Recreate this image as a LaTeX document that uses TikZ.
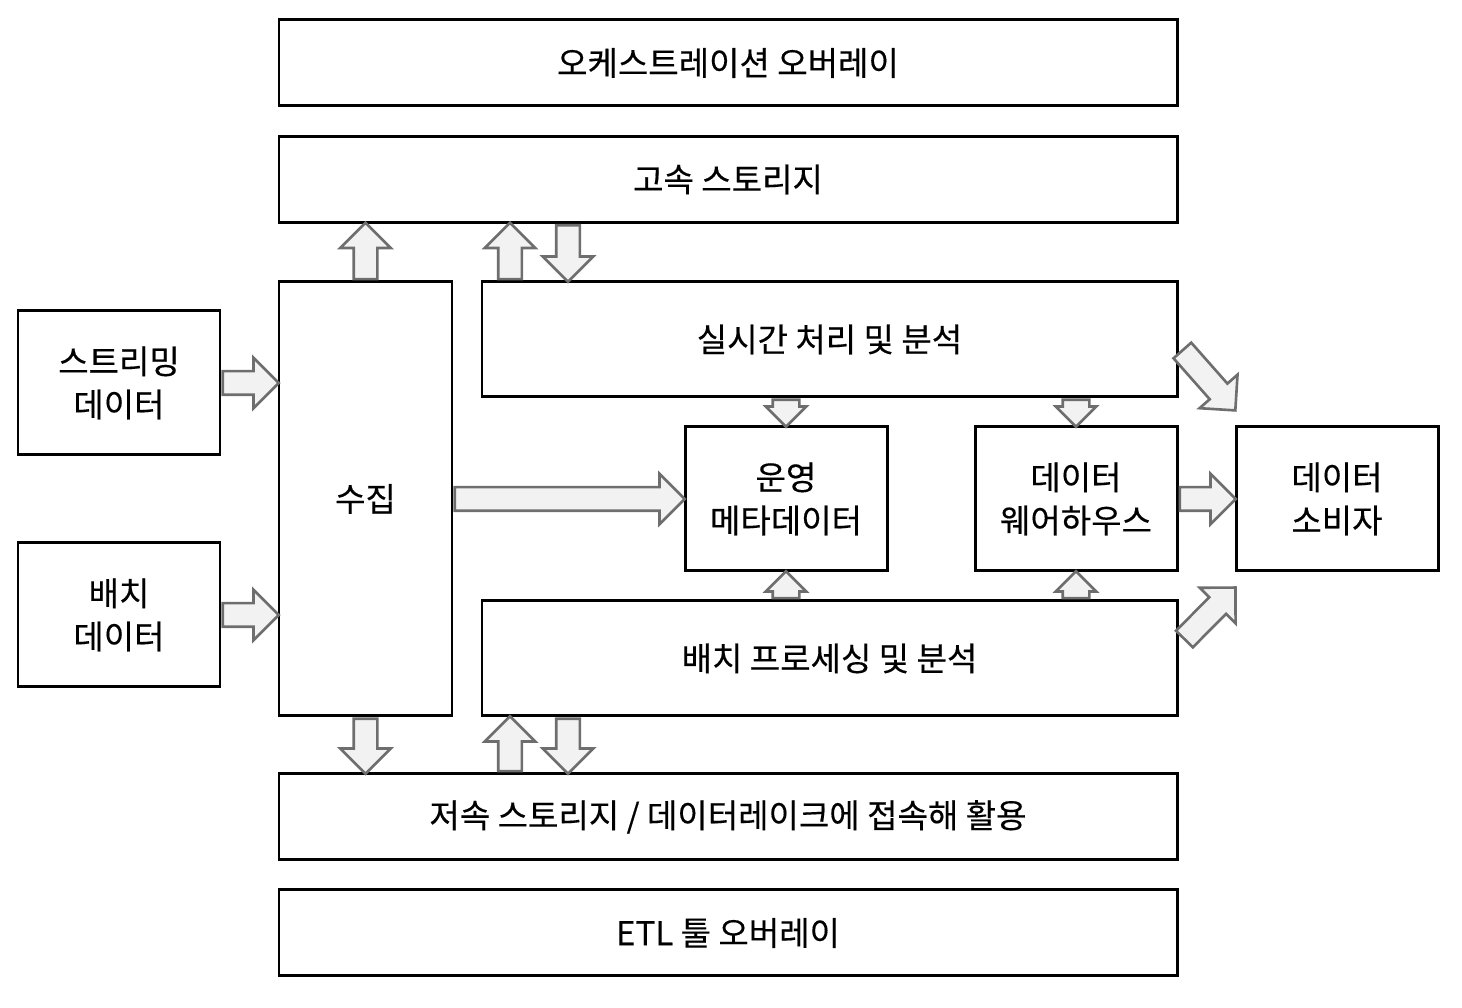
\documentclass[tikz,border=0pt]{standalone}
\usepackage{fontspec}
\setmainfont{Noto Sans CJK KR}[RawFeature=+palt,FakeBold=0.35]
\usepackage{tikz}
\usetikzlibrary{arrows,positioning,calc,shapes.arrows}
\definecolor{arrowgray}{HTML}{6E6E6E}
\definecolor{arrowfill}{HTML}{F2F2F2}
\tikzset{font=\fontsize{18.8}{24.5}\selectfont}
\tikzstyle{blk}=[draw,line width=1.7pt,align=center,inner sep=0pt]
\tikzstyle{wide}=[blk,minimum width=17.96cm,minimum height=1.72cm]
\tikzstyle{mid}=[blk,minimum width=13.9cm,minimum height=2.3cm]
\tikzstyle{small}=[blk,minimum width=4.04cm,minimum height=2.88cm]
\tikzstyle{fat}=[single arrow,draw=arrowgray,fill=arrowfill,line width=1.5pt,
  inner xsep=0pt,inner ysep=0.21cm,single arrow head extend=0.27cm,anchor=tail]
\tikzstyle{thin}=[inner ysep=0.24cm,single arrow head extend=0.14cm]
\tikzset{barrow/.style={to path={let \p1=($(\tikztotarget)-(\tikztostart)$) in
  node[fat,#1,minimum height={veclen(\x1,\y1)},rotate={atan2(\y1,\x1)}] at (\tikztostart) {}
  (\tikztotarget)}},barrow/.default={}}

\begin{document}
\begin{tikzpicture}
  [auto=left]
\useasboundingbox (0,0) rectangle (29.24,20.16);
\node[wide] (orch) at (14.56,18.9) {오케스트레이션 오버레이};
\node[wide] (fast) at (14.56,16.57) {고속 스토리지};
\node[small] (stream) at (2.38,12.5) {스트리밍\\데이터};
\node[small] (batchd) at (2.38,7.86) {배치\\데이터};
\node[blk,minimum width=3.46cm,minimum height=8.68cm] (ing) at (7.31,10.18) {수집};
\node[mid] (rt) at (16.59,13.37) {실시간 처리 및 분석};
\node[small] (meta) at (15.72,10.18) {운영\\메타데이터};
\node[small] (dw) at (21.52,10.18) {데이터\\웨어하우스};
\node[small] (cons) at (26.74,10.18) {데이터\\소비자};
\node[mid] (bp) at (16.59,6.99) {배치 프로세싱 및 분석};
\node[wide] (slow) at (14.56,3.82) {저속 스토리지 / 데이터레이크에 접속해 활용};
\node[wide] (etl) at (14.56,1.5) {ETL 툴 오버레이};
\coordinate (xa) at (10.2,0);
\coordinate (xb) at (11.36,0);
\coordinate (r1) at ($(rt.east)+(0.06,-0.2)$);
\coordinate (c1) at ($(cons.north west)+(0,0.32)$);
\coordinate (b1) at ($(bp.east)+(0.1,0.37)$);
\coordinate (c2) at ($(cons.south west)+(0,-0.32)$);
\path
(ing.north) edge[barrow] (fast.south -| ing.north)
(rt.north -| xa) edge[barrow] (fast.south -| xa)
(fast.south -| xb) edge[barrow] (rt.north -| xb)
(stream.east) edge[barrow] (stream.east -| ing.west)
(batchd.east) edge[barrow] (batchd.east -| ing.west)
(ing.east |- meta) edge[barrow] (meta.west)
(rt.south -| meta) edge[barrow=thin] (meta.north)
(rt.south -| dw) edge[barrow=thin] (dw.north)
(bp.north -| meta) edge[barrow=thin] (meta.south)
(bp.north -| dw) edge[barrow=thin] (dw.south)
(dw.east) edge[barrow] (cons.west)
(r1) edge[barrow] (c1)
(b1) edge[barrow] (c2)
(ing.south) edge[barrow] (slow.north -| ing.south)
(slow.north -| xa) edge[barrow] (bp.south -| xa)
(bp.south -| xb) edge[barrow] (slow.north -| xb);
\end{tikzpicture}
\end{document}
